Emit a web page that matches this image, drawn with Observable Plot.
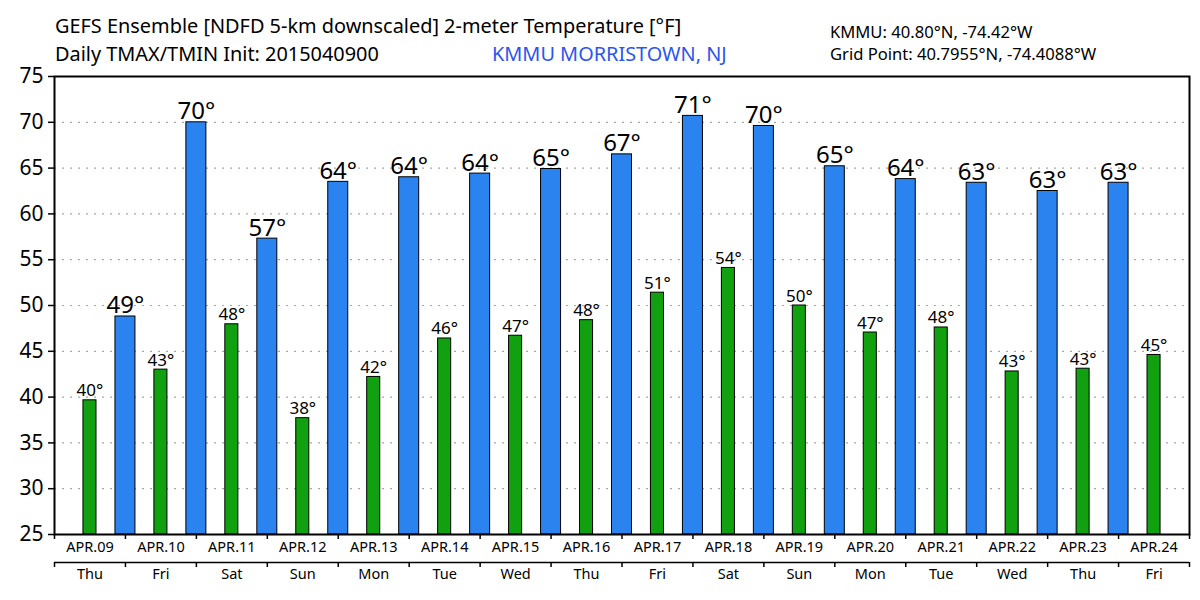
<!DOCTYPE html>
<html><head><meta charset="utf-8">
<script src="https://cdn.jsdelivr.net/npm/d3@7"></script>
<script src="https://cdn.jsdelivr.net/npm/@observablehq/plot@0.6"></script>
<style>
body{margin:0;background:#fff;font-family:"Noto Sans",sans-serif;}
#wrap{position:relative;width:1200px;height:600px;overflow:hidden;}
#head{position:relative;height:56px;}
.t{position:absolute;white-space:nowrap;line-height:1;color:#000;}
#chart svg{display:block;overflow:visible;}
</style></head><body>
<div id="wrap"><div id="head">
<div class="t" style="left:55px;top:16px;font-size:19.9px">GEFS Ensemble [NDFD 5-km downscaled] 2-meter Temperature [°F]</div>
<div class="t" style="left:55px;top:44px;font-size:19.9px">Daily TMAX/TMIN Init: 2015040900</div>
<div class="t" style="left:492px;top:44px;font-size:19.9px;color:#2b55f0">KMMU MORRISTOWN, NJ</div>
<div class="t" style="left:830px;top:24px;font-size:16.6px">KMMU: 40.80°N, -74.42°W</div>
<div class="t" style="left:830px;top:46px;font-size:16.6px">Grid Point: 40.7955°N, -74.4088°W</div>
</div><div id="chart"></div></div>
<script>
const dates = ["APR.09","APR.10","APR.11","APR.12","APR.13","APR.14","APR.15","APR.16","APR.17","APR.18","APR.19","APR.20","APR.21","APR.22","APR.23","APR.24"];
const weekdays = ["Thu","Fri","Sat","Sun","Mon","Tue","Wed","Thu","Fri","Sat","Sun","Mon","Tue","Wed","Thu","Fri"];
const tmin = [39.65,43.0,47.95,37.7,42.2,46.4,46.7,48.4,51.4,54.1,50.0,47.05,47.6,42.8,43.1,44.6];
const tmax = [48.8,70.0,57.3,63.5,64.0,64.4,64.9,66.5,70.7,69.6,65.2,63.8,63.4,62.5,63.4];
const yTicks = [25,30,35,40,45,50,55,60,65,70,75];
const yMin = 25, yMax = 75;

const minHalf = 0.092, maxHalf = 0.141; // half bar widths in day units
const minRows = tmin.map((v,i)=>({c:i+0.5, x1:i+0.5-minHalf, x2:i+0.5+minHalf, v, label:Math.round(v)+"°"}));
const maxRows = tmax.map((v,i)=>({c:i+1, x1:i+1-maxHalf, x2:i+1+maxHalf, v, label:Math.round(v)+"°"}));
const boundaries = d3.range(dates.length+1);
const centers = dates.map((d,i)=>({c:i+0.5, d, w:weekdays[i]}));

const chart = Plot.plot({
  width:1200, height:544,
  marginTop:20, marginBottom:66, marginLeft:54, marginRight:11,
  style:{fontFamily:"Noto Sans", background:"transparent", color:"#000"},
  x:{domain:[0,dates.length], axis:null},
  y:{domain:[yMin,yMax], axis:null},
  marks:[
    Plot.gridY(yTicks.slice(1,-1), {stroke:"#a8a8a8", strokeOpacity:1, strokeDasharray:"2,6", strokeWidth:1.2}),
    Plot.rectY(minRows, {x1:"x1", x2:"x2", y1:yMin, y2:"v", fill:"#10a010", stroke:"#000", strokeWidth:1}),
    Plot.rectY(maxRows, {x1:"x1", x2:"x2", y1:yMin, y2:"v", fill:"#2b83ef", stroke:"#000", strokeWidth:1}),
    Plot.text(minRows, {x:"c", y:"v", text:"label", dy:-4, lineAnchor:"bottom", fontSize:17, fill:"#000"}),
    Plot.text(maxRows, {x:"c", y:"v", text:"label", dy:-3, lineAnchor:"bottom", fontSize:24, fill:"#000"}),
    Plot.frame({stroke:"#000", strokeWidth:2}),
    Plot.axisY(yTicks, {label:null, tickSize:6, tickPadding:5, fontSize:21, strokeWidth:1.5}),
    Plot.axisX(boundaries, {label:null, tickSize:5, tickFormat:()=>"", strokeWidth:1.5}),
    Plot.text(centers, {x:"c", text:"d", frameAnchor:"bottom", dy:17, fontSize:14.5, fill:"#000"}),
    Plot.ruleY([yMin], {dy:28, stroke:"#000", strokeWidth:1.5}),
    Plot.axisX(boundaries, {label:null, tickSize:5, dy:28, tickFormat:()=>"", strokeWidth:1.5}),
    Plot.text(centers, {x:"c", text:"w", frameAnchor:"bottom", dy:44, fontSize:14.5, fill:"#000"})
  ]
});
document.getElementById("chart").appendChild(chart);
</script>
</body></html>
